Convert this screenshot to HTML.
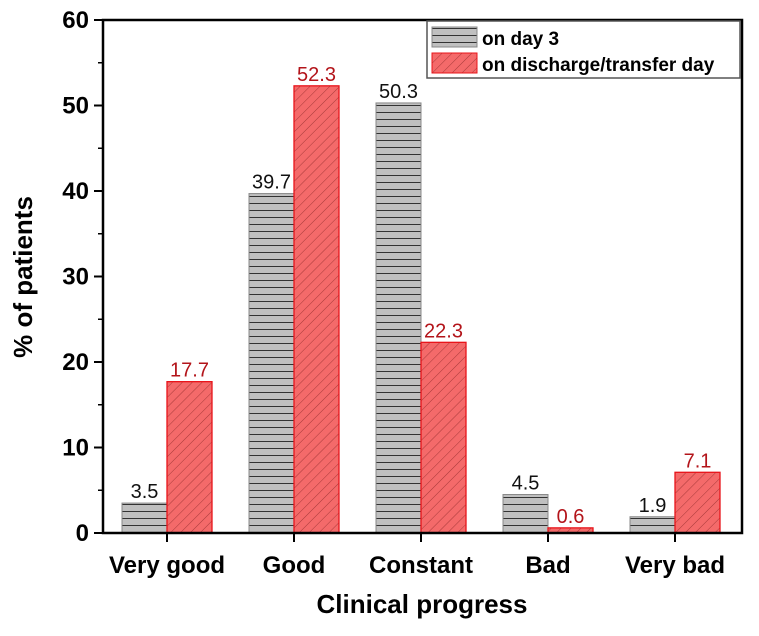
<!DOCTYPE html>
<html><head><meta charset="utf-8"><style>
body{margin:0;background:#fff}
svg text{font-family:"Liberation Sans",Arial,sans-serif}
</style></head><body>
<svg id="c" width="759" height="631" viewBox="0 0 759 631" xmlns="http://www.w3.org/2000/svg">
<defs>
<pattern id="hz" width="8" height="7" patternUnits="userSpaceOnUse">
<rect width="8" height="7" fill="#c0c0c0"/><line x1="0" y1="0.5" x2="8" y2="0.5" stroke="#333" stroke-width="1"/>
</pattern>
<pattern id="dg" width="7" height="7" patternUnits="userSpaceOnUse" patternTransform="rotate(45)">
<rect width="7" height="7" fill="#f46a6a"/><line x1="0" y1="0" x2="0" y2="7" stroke="#a83a3a" stroke-width="1"/>
</pattern>
</defs>
<g id="bars"></g>
<g id="axes"></g>
</svg>
<script>
const categories=["Very good","Good","Constant","Bad","Very bad"];
const day3=[3.5,39.7,50.3,4.5,1.9];
const discharge=[17.7,52.3,22.3,0.6,7.1];
const yTicks=[0,10,20,30,40,50,60];
const NS="http://www.w3.org/2000/svg";
const L=103,R=742,T=20,B=533,yMax=60;
const y=v=>B-(B-T)*v/yMax;
const xc=i=>167+127*i;
const bw=45;
function mk(t,a,p){const e=document.createElementNS(NS,t);for(const k in a)e.setAttribute(k,a[k]);(p||document.getElementById('c')).appendChild(e);return e;}
const bars=document.getElementById('bars');
categories.forEach((c,i)=>{
 const g=mk('rect',{x:xc(i)-bw,y:y(day3[i]),width:bw,height:B-y(day3[i]),fill:'url(#hz)',stroke:'#888','stroke-width':1},bars);
 
 
 const r=mk('rect',{x:xc(i),y:y(discharge[i]),width:bw,height:B-y(discharge[i]),fill:'url(#dg)',stroke:'#e8141a','stroke-width':1.3},bars);
 
 
 const t1=mk('text',{x:xc(i)-bw/2,y:y(day3[i])-5,'text-anchor':'middle','font-size':20,fill:'#111'},bars);t1.textContent=day3[i].toFixed(1);
 
 
 const t2=mk('text',{x:xc(i)+bw/2,y:y(discharge[i])-5,'text-anchor':'middle','font-size':20,fill:'#b3141a'},bars);t2.textContent=discharge[i].toFixed(1);
 
 
 mk('line',{x1:xc(i),x2:xc(i),y1:B,y2:B+9,stroke:'#000','stroke-width':2});
 const cl=mk('text',{x:xc(i),y:573,'text-anchor':'middle','font-size':24,'font-weight':'bold'});cl.textContent=c;
 
 
});
mk('rect',{x:L,y:T,width:R-L,height:B-T,fill:'none',stroke:'#000','stroke-width':2.5});
yTicks.forEach(v=>{
 mk('line',{x1:L-9,x2:L,y1:y(v),y2:y(v),stroke:'#000','stroke-width':2});
 if(v<60)mk('line',{x1:L-5,x2:L,y1:y(v+5),y2:y(v+5),stroke:'#000','stroke-width':1.5});
 const t=mk('text',{x:L-14,y:y(v)+8,'text-anchor':'end','font-size':24,'font-weight':'bold'});t.textContent=v;
 
 
});
const yt=mk('text',{x:0,y:0,transform:'translate(32,277) rotate(-90)','text-anchor':'middle','font-size':26,'font-weight':'bold'});yt.textContent='% of patients';


const xt=mk('text',{x:422,y:613,'text-anchor':'middle','font-size':26,'font-weight':'bold'});xt.textContent='Clinical progress';


const lg=mk('g',{});


mk('rect',{x:427,y:21,width:313,height:57,fill:'#fff',stroke:'#555','stroke-width':1.5},lg);
mk('rect',{x:432,y:27,width:45,height:20,fill:'url(#hz)',stroke:'#888'},lg);
mk('rect',{x:432,y:53,width:45,height:20,fill:'url(#dg)',stroke:'#e8141a'},lg);
const l1=mk('text',{x:482,y:45,'font-size':19,'font-weight':'bold'},lg);l1.textContent='on day 3';
const l2=mk('text',{x:482,y:71,'font-size':19,'font-weight':'bold'},lg);l2.textContent='on discharge/transfer day';
</script>
</body></html>
